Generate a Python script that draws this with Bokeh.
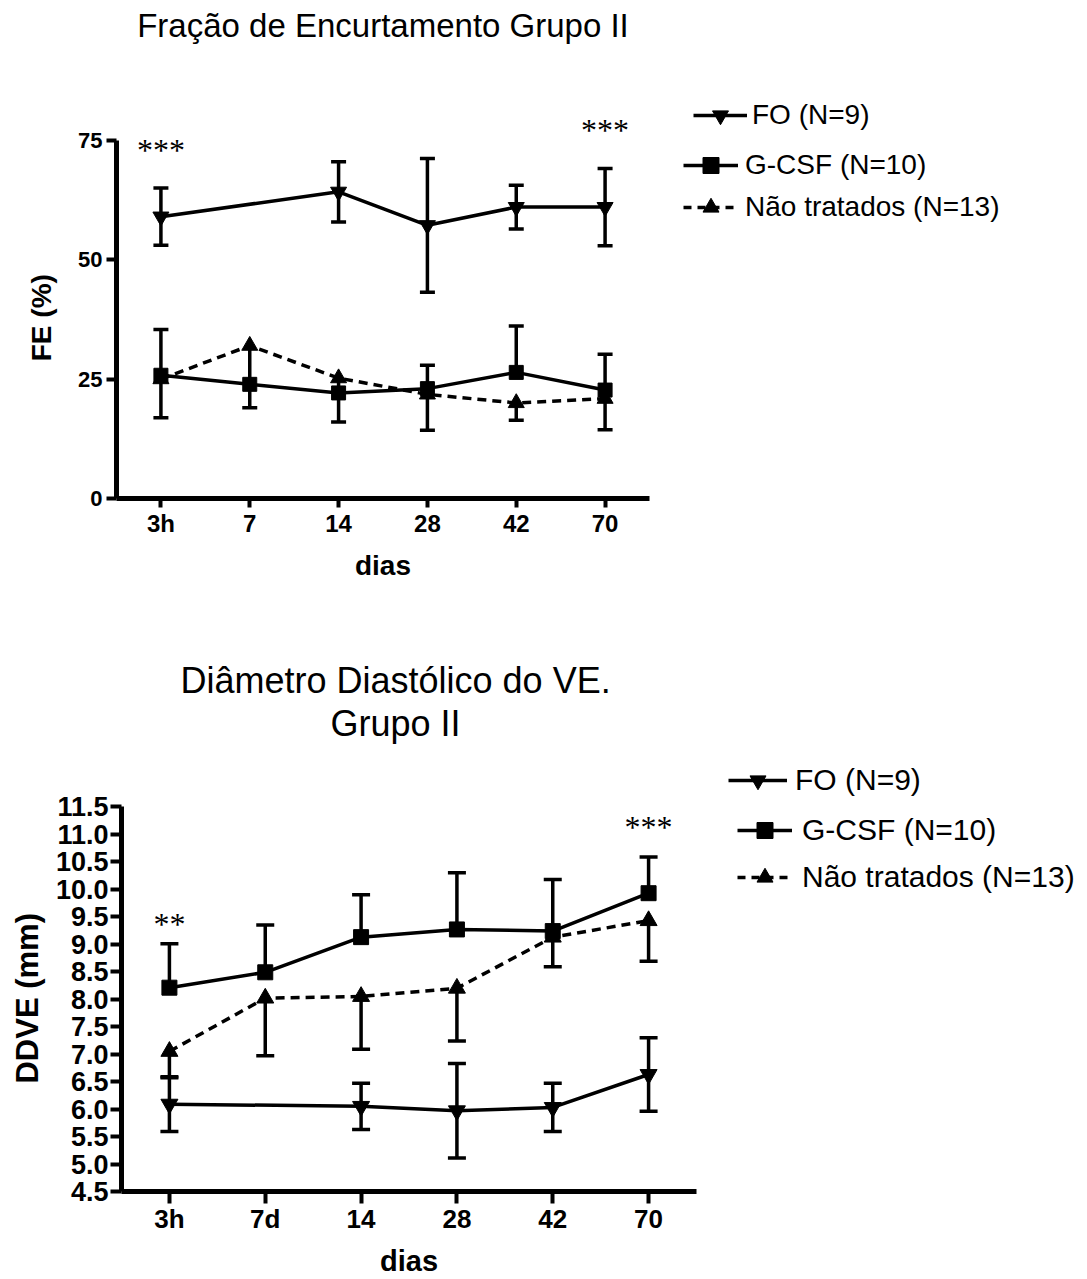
from bokeh.plotting import figure
from bokeh.models import (FactorRange, Range1d, FixedTicker, Whisker, TeeHead,
                          ColumnDataSource, Legend, LegendItem, Title,
                          PrintfTickFormatter)
from bokeh.layouts import column, row
from bokeh.embed import file_html
from bokeh.resources import INLINE
from bokeh.core.properties import value

# ---------------- data: top chart (Fração de Encurtamento, %) ----------------
fe_days = ["3h", "7", "14", "28", "42", "70"]
fe_fo = [59.0, None, 64.2, 57.2, 61.0, 61.0]
fe_fo_err = [6.0, None, 6.3, 14.0, 4.6, 8.1]          # bars both ways
fe_gcsf = [25.8, 23.9, 22.1, 23.0, 26.4, 22.7]
fe_gcsf_err = [9.6, None, None, 4.9, 9.7, 7.5]        # bars upward
fe_nt = [25.0, 32.0, 25.2, 21.8, 20.0, 20.9]
fe_nt_err = [8.1, 13.0, 9.2, 7.5, 3.6, 6.5]           # bars downward
fe_yticks = [0, 25, 50, 75]
fe_sig_days = ["3h", "70"]
fe_sig_y = [73.0, 77.2]
fe_sig_text = ["***", "***"]

# ---------------- data: bottom chart (DDVE, mm) ----------------
dd_days = ["3h", "7d", "14", "28", "42", "70"]
dd_fo = [6.09, None, 6.05, 5.97, 6.03, 6.63]
dd_fo_err = [0.50, None, 0.42, 0.86, 0.44, 0.67]
dd_gcsf = [8.21, 8.49, 9.13, 9.27, 9.24, 9.93]
dd_gcsf_err = [0.80, 0.86, 0.77, 1.03, 0.94, 0.66]
dd_nt = [7.05, 8.02, 8.05, 8.20, 9.13, 9.43]
dd_nt_err = [0.48, 1.05, 0.96, 0.96, 0.54, 0.74]
dd_yticks = [4.5, 5.0, 5.5, 6.0, 6.5, 7.0, 7.5, 8.0, 8.5, 9.0, 9.5,
             10.0, 10.5, 11.0, 11.5]
dd_sig_days = ["3h", "70"]
dd_sig_y = [9.37, 11.13]
dd_sig_text = ["**", "***"]

series_labels = ["FO (N=9)", "G-CSF (N=10)", "Não tratados (N=13)"]

FONT = "Liberation Sans"
NT_DASH = "9 6"
NBSP = "\u00a0"


def pts(days, vals):
    xs = [d for d, v in zip(days, vals) if v is not None]
    ys = [v for v in vals if v is not None]
    return xs, ys


def whisk(days, vals, errs, up, down):
    b, lo, hi = [], [], []
    for d, v, e in zip(days, vals, errs):
        if v is None or e is None:
            continue
        b.append(d)
        lo.append(v - e if down else v)
        hi.append(v + e if up else v)
    return ColumnDataSource(dict(base=b, lower=lo, upper=hi))


def make_chart(cfg):
    p = figure(x_range=FactorRange(factors=cfg["days"], range_padding=0),
               y_range=Range1d(cfg["ybounds"][0], cfg["yend"]),
               width=cfg["width"], height=cfg["height"],
               output_backend="svg", toolbar_location=None,
               min_border_left=cfg["bl"], min_border_right=cfg["br"],
               min_border_top=cfg["bt"], min_border_bottom=cfg["bb"],
               outline_line_color=None, background_fill_color="white",
               border_fill_color="white", frame_align=False)
    p.xgrid.visible = False
    p.ygrid.visible = False

    # spacer panel closest to the frame, then the title line(s)
    p.add_layout(Title(text=" ", text_font=FONT, text_font_size="10px",
                       standoff=cfg["spacer"]), "above")
    for txt, align, off, so in cfg["titles"]:
        p.add_layout(Title(text=txt, align=align, offset=off, standoff=so,
                           text_font=FONT, text_font_size=cfg["title_fs"],
                           text_font_style="normal", text_color="black"), "above")

    lw = cfg["lw"]
    cap = cfg["cap"]
    for vals, errs, up, down in [(cfg["fo"], cfg["fo_err"], True, True),
                                 (cfg["gc"], cfg["gc_err"], True, False),
                                 (cfg["nt"], cfg["nt_err"], False, True)]:
        src = whisk(cfg["days"], vals, errs, up, down)
        w = Whisker(base="base", lower="lower", upper="upper", source=src,
                    dimension="height", line_color="black", line_width=lw,
                    upper_head=TeeHead(size=cap, line_width=lw, line_color="black") if up else None,
                    lower_head=TeeHead(size=cap, line_width=lw, line_color="black") if down else None)
        p.add_layout(w)

    xs, ys = pts(cfg["days"], cfg["fo"])
    p.line(xs, ys, line_color="black", line_width=lw)
    p.scatter(xs, ys, marker="inverted_triangle", size=cfg["tri"],
              fill_color="black", line_color="black")
    xs, ys = pts(cfg["days"], cfg["gc"])
    p.line(xs, ys, line_color="black", line_width=lw)
    p.scatter(xs, ys, marker="square", size=cfg["sq"],
              fill_color="black", line_color="black")
    xs, ys = pts(cfg["days"], cfg["nt"])
    p.line(xs, ys, line_color="black", line_width=lw, line_dash=NT_DASH)
    p.scatter(xs, ys, marker="triangle", size=cfg["tri"],
              fill_color="black", line_color="black")

    p.text(x=cfg["sig_days"], y=cfg["sig_y"], text=cfg["sig_text"],
           text_font=value("Liberation Serif"), text_font_size="32px",
           text_align="center", text_baseline="middle", text_color="black")

    for ax in (p.xaxis[0], p.yaxis[0]):
        ax.axis_line_width = 5
        ax.axis_line_color = "black"
        ax.major_tick_line_width = 4
        ax.major_tick_line_color = "black"
        ax.major_tick_in = 0
        ax.minor_tick_line_color = None
        ax.major_label_text_font = FONT
        ax.major_label_text_font_style = "bold"
        ax.major_label_text_color = "black"
        ax.axis_label_text_font = FONT
        ax.axis_label_text_font_style = "bold"
        ax.axis_label_text_color = "black"
    ya = p.yaxis[0]
    ya.ticker = FixedTicker(ticks=cfg["yticks"], minor_ticks=[])
    ya.formatter = PrintfTickFormatter(format=cfg["yfmt"])
    ya.bounds = cfg["ybounds"]
    ya.major_tick_out = cfg["ytick_out"]
    ya.major_label_standoff = cfg["ylab_so"]
    ya.major_label_text_font_size = cfg["ytick_fs"]
    # trailing no-break spaces centre the label on the 0..max span, as in the original
    ya.axis_label = cfg["ylabel"] + NBSP * cfg["ylabel_pad"]
    ya.axis_label_text_font_size = cfg["ylabel_fs"]
    ya.axis_label_standoff = cfg["ylabel_so"]
    xa = p.xaxis[0]
    xa.major_tick_out = cfg["xtick_out"]
    xa.major_label_standoff = cfg["xlab_so"]
    xa.major_label_text_font_size = cfg["xtick_fs"]
    xa.axis_label = "dias"
    xa.axis_label_text_font_size = cfg["xlabel_fs"]
    xa.axis_label_standoff = cfg["xlabel_so"]
    return p


def make_legend(width, height, geos, fs):
    lf = figure(width=width, height=height, x_axis_type=None, y_axis_type=None,
                x_range=Range1d(0, 1), y_range=Range1d(0, 1),
                output_backend="svg", toolbar_location=None, min_border=0,
                outline_line_color=None, frame_align=False)
    styles = [dict(marker="inverted_triangle", dash="solid", size=13),
              dict(marker="square", dash="solid", size=11),
              dict(marker="triangle", dash="8 6", size=13)]
    nan = float("nan")
    for lab, st, geo in zip(series_labels, styles, geos):
        vx, vy, gw, so = geo
        # legend-only renderers (a single NaN point draws nothing in the frame)
        r1 = lf.line(x=[nan], y=[nan], line_color="black", line_width=3.5,
                     line_dash=st["dash"])
        r2 = lf.scatter(x=[nan], y=[nan], marker=st["marker"], size=st["size"],
                        fill_color="black", line_color="black")
        leg = Legend(items=[LegendItem(label=lab, renderers=[r1, r2])],
                     location=(vx, vy), orientation="vertical",
                     glyph_width=gw, glyph_height=40, label_height=40,
                     label_standoff=so, padding=0, margin=0, spacing=0,
                     border_line_color=None, background_fill_alpha=0,
                     label_text_font=FONT, label_text_font_size=fs,
                     label_text_color="black")
        lf.add_layout(leg)
    return lf


top = make_chart(dict(
    days=fe_days, fo=fe_fo, fo_err=fe_fo_err, gc=fe_gcsf, gc_err=fe_gcsf_err,
    nt=fe_nt, nt_err=fe_nt_err, yticks=fe_yticks, yfmt="%d", ybounds=(0, 75), yend=80.6,
    sig_days=fe_sig_days, sig_y=fe_sig_y, sig_text=fe_sig_text,
    width=657, height=600, bl=116, br=8, bt=113, bb=102,
    spacer=55, titles=[("Fração de Encurtamento Grupo II", "center", 0, 4)], title_fs="33px",
    lw=3.5, cap=15, tri=16, sq=14,
    ytick_out=10, ylab_so=4, ytick_fs="22px", ylabel="FE (%)", ylabel_pad=3,
    ylabel_fs="28px", ylabel_so=18,
    xtick_out=9, xlab_so=2, xtick_fs="24px", xlabel_fs="28px", xlabel_so=10,
))
top_leg = make_legend(430, 600, [(36, 465, 54, 5), (26, 415, 55, 7), (26, 373, 55, 7)], "28px")

bottom = make_chart(dict(
    days=dd_days, fo=dd_fo, fo_err=dd_fo_err, gc=dd_gcsf, gc_err=dd_gcsf_err,
    nt=dd_nt, nt_err=dd_nt_err, yticks=dd_yticks, yfmt="%.1f", ybounds=(4.5, 11.5), yend=11.69,
    sig_days=dd_sig_days, sig_y=dd_sig_y, sig_text=dd_sig_text,
    width=704, height=679, bl=121, br=8, bt=196, bb=88,
    spacer=40, titles=[("Grupo II", "left", 209, 0),
                       ("Diâmetro Diastólico do VE.", "left", 59, 0)], title_fs="36px",
    lw=3.5, cap=18, tri=17, sq=15,
    ytick_out=11, ylab_so=2, ytick_fs="27px", ylabel="DDVE (mm)", ylabel_pad=1,
    ylabel_fs="31px", ylabel_so=8,
    xtick_out=12, xlab_so=0, xtick_fs="26px", xlabel_fs="29px", xlabel_so=8,
))
bottom_leg = make_legend(383, 679, [(24, 479, 59, 8), (33, 429, 55, 10), (33, 382, 55, 10)], "30px")

layout = column(row(top, top_leg, spacing=0), row(bottom, bottom_leg, spacing=0), spacing=0)
open("out.html", "w").write(file_html(layout, INLINE))
